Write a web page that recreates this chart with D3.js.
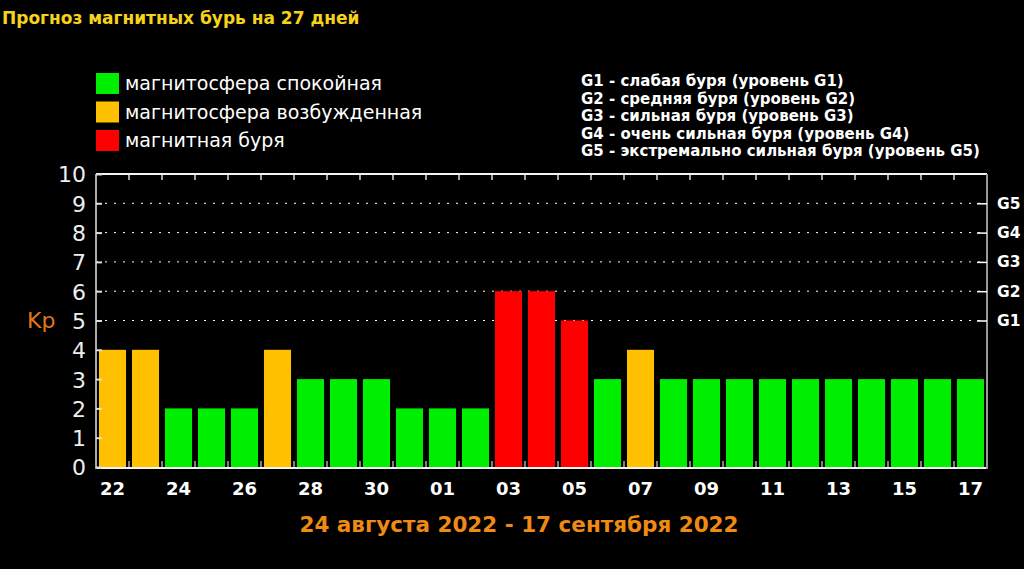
<!DOCTYPE html>
<html lang="ru">
<head>
<meta charset="UTF-8">
<title>Прогноз магнитных бурь на 27 дней</title>
<script src="https://d3js.org/d3.v7.min.js"></script>
<style>
    body { margin: 0; background: #000; }
    svg { display: block; background: #000; }
    .title { font-family: "DejaVu Sans", sans-serif; font-weight: bold; font-size: 17px; fill: #f5d31a; }
    .legend-text { font-family: "DejaVu Sans", sans-serif; font-size: 19px; fill: #fff; }
    .glegend { font-family: "DejaVu Sans", sans-serif; font-weight: bold; font-size: 15px; fill: #fff; }
    .y.axis text { font-family: "DejaVu Sans", sans-serif; font-size: 22px; fill: #eee; }
    .x.axis text { font-family: "DejaVu Sans", sans-serif; font-weight: bold; font-size: 18px; fill: #fff; }
    .g.axis text { font-family: "DejaVu Sans", sans-serif; font-weight: bold; font-size: 15.5px; fill: #fff; }
    .axis path { display: none; }
    .grid { stroke: #fff; stroke-dasharray: 2, 7; }
    .kp { font-family: "DejaVu Sans", sans-serif; font-size: 22px; fill: #e0761a; }
    .period { font-family: "DejaVu Sans", sans-serif; font-weight: bold; font-size: 21.5px; fill: #ef8a14; }
</style>
</head>
<body>
<script>
// forecast data
var days = ["22","23","24","25","26","27","28","29","30","31","01","02","03","04","05","06","07","08","09","10","11","12","13","14","15","16","17"];
var kp = [4,4,2,2,2,4,3,3,3,2,2,2,6,6,5,3,4,3,3,3,3,3,3,3,3,3,3];
var dayLabels = ["22","24","26","28","30","01","03","05","07","09","11","13","15","17"];
var yTicks = [0,1,2,3,4,5,6,7,8,9,10];
var gLevels = [5,6,7,8,9];
var gNames = ["G1","G2","G3","G4","G5"];
var legendItems = ["магнитосфера спокойная","магнитосфера возбужденная","магнитная буря"];
var legendColors = ["#00ee00","#ffc000","#ff0000"];
var gDescriptions = [
    "G1 - слабая буря (уровень G1)",
    "G2 - средняя буря (уровень G2)",
    "G3 - сильная буря (уровень G3)",
    "G4 - очень сильная буря (уровень G4)",
    "G5 - экстремально сильная буря (уровень G5)"
];

function barColor(v) {
    if (v >= 5) return legendColors[2];
    if (v >= 4) return legendColors[1];
    return legendColors[0];
}

var W = 1024, H = 569;
var plotL = 96, plotR = 987, plotT = 174, plotB = 467;

var svg = d3.select("body").append("svg")
    .attr("width", W)
    .attr("height", H);

svg.append("text")
    .attr("class", "title")
    .attr("x", 2)
    .attr("y", 24)
    .text("Прогноз магнитных бурь на 27 дней");

// legend
var leg = svg.append("g");
legendItems.forEach(function(t, i) {
    leg.append("rect")
        .attr("x", 96).attr("y", 73 + i * 28.5)
        .attr("width", 23).attr("height", 21)
        .attr("fill", legendColors[i]);
    leg.append("text")
        .attr("class", "legend-text")
        .attr("x", 125).attr("y", 90 + i * 28.5)
        .text(t);
});

gDescriptions.forEach(function(t, i) {
    svg.append("text")
        .attr("class", "glegend")
        .attr("x", 581).attr("y", 86 + i * 17.6)
        .text(t);
});

var x = d3.scaleBand()
    .domain(days)
    .range([plotL, plotR])
    .paddingInner(0.18)
    .paddingOuter(0.09);

var y = d3.scaleLinear()
    .domain([0, 10])
    .range([plotB, plotT]);

// dotted grid at G levels
svg.selectAll(".grid")
    .data(gLevels)
    .enter().append("line")
    .attr("class", "grid")
    .attr("x1", plotL).attr("x2", plotR)
    .attr("y1", function(d) { return y(d); })
    .attr("y2", function(d) { return y(d); });

// bars
svg.selectAll(".bar")
    .data(kp)
    .enter().append("rect")
    .attr("class", "bar")
    .attr("x", function(d, i) { return x(days[i]); })
    .attr("width", x.bandwidth())
    .attr("y", function(d) { return y(d); })
    .attr("height", function(d) { return y(0) - y(d); })
    .attr("fill", barColor);

// slot ticks top and bottom
var bounds = days.slice(1).map(function(d) { return x(d) - x.step() * 0.09; });
svg.selectAll(".ttick")
    .data(bounds)
    .enter().append("line")
    .attr("x1", function(d) { return d; }).attr("x2", function(d) { return d; })
    .attr("y1", plotT).attr("y2", plotT + 6)
    .attr("stroke", "#ddd").attr("stroke-width", 1.5);
svg.selectAll(".btick")
    .data(bounds)
    .enter().append("line")
    .attr("x1", function(d) { return d; }).attr("x2", function(d) { return d; })
    .attr("y1", plotB).attr("y2", plotB - 6)
    .attr("stroke", "#aaa").attr("stroke-width", 1.5);

// frame
svg.append("line").attr("x1", plotL).attr("x2", plotR).attr("y1", plotT).attr("y2", plotT)
    .attr("stroke", "#f4f4f4").attr("stroke-width", 2);
svg.append("line").attr("x1", plotL).attr("x2", plotR).attr("y1", plotB + 1).attr("y2", plotB + 1)
    .attr("stroke", "#f4f4f4").attr("stroke-width", 2);
svg.append("line").attr("x1", plotL).attr("x2", plotL).attr("y1", plotT).attr("y2", plotB + 2)
    .attr("stroke", "#aaa").attr("stroke-width", 2);
svg.append("line").attr("x1", plotR).attr("x2", plotR).attr("y1", plotT).attr("y2", plotB + 2)
    .attr("stroke", "#999").attr("stroke-width", 2);

// y axis
var yAxis = d3.axisLeft(y).tickValues(yTicks).tickSize(-6).tickPadding(10).tickFormat(d3.format("d"));
var yg = svg.append("g")
    .attr("class", "y axis")
    .attr("transform", "translate(" + plotL + ",0)")
    .call(yAxis);
yg.selectAll(".tick line").attr("stroke", "#ddd").attr("stroke-width", 2);
yg.selectAll(".tick text").attr("dy", "0.36em");

// right axis with G levels
var gAxis = d3.axisRight(y).tickValues(gLevels).tickSize(-10).tickPadding(10)
    .tickFormat(function(d, i) { return gNames[i]; });
var gg = svg.append("g")
    .attr("class", "g axis")
    .attr("transform", "translate(" + plotR + ",0)")
    .call(gAxis);
gg.selectAll(".tick line").attr("stroke", "#fff").attr("stroke-width", 1.5);

// x axis
var xAxis = d3.axisBottom(x).tickValues(dayLabels.map(function(d, i) { return days[i * 2]; }))
    .tickSize(0).tickPadding(15);
svg.append("g")
    .attr("class", "x axis")
    .attr("transform", "translate(0," + plotB + ")")
    .call(xAxis);

svg.append("text")
    .attr("class", "kp")
    .attr("x", 27).attr("y", 328)
    .text("Kp");

svg.append("text")
    .attr("class", "period")
    .attr("x", 519)
    .attr("y", 532)
    .attr("text-anchor", "middle")
    .text("24 августа 2022 - 17 сентября 2022");
</script>
</body>
</html>
